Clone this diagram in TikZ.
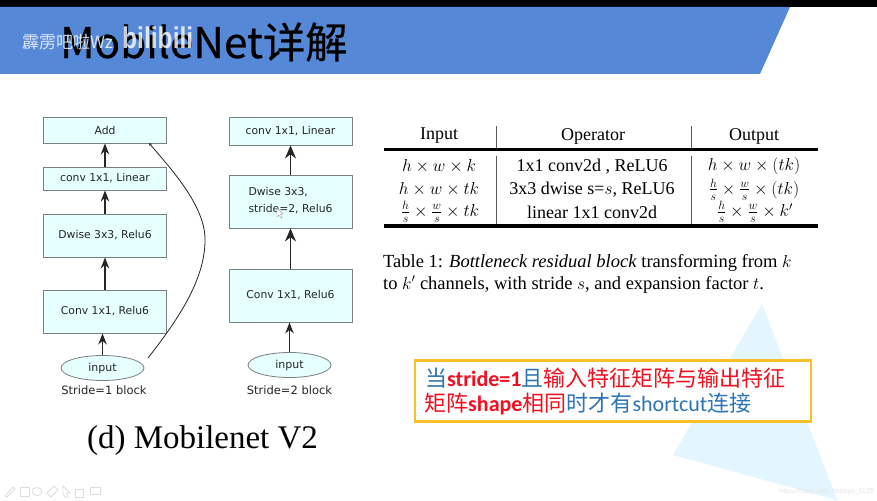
\documentclass[tikz,border=0pt]{standalone}
\usepackage{fontspec}
\usepackage{amsmath}
\usepackage{graphicx}
\setmainfont{Liberation Serif}
\newfontfamily\cjk{Noto Sans CJK SC}
\newfontfamily\cjkt[FakeBold=0.5]{Noto Sans CJK SC}
\newfontfamily\dv{DejaVu Sans}
\newfontfamily\cb{Carlito}[BoldFont=Carlito Bold]
\newfontfamily\lsans{Liberation Sans}
\usetikzlibrary{arrows.meta,shapes.geometric}
\definecolor{hdr}{HTML}{5588D6}
\definecolor{boxfill}{HTML}{E6FFFF}
\definecolor{boxline}{HTML}{7A7F80}
\definecolor{tri}{HTML}{E3F5FE}
\definecolor{callout}{HTML}{FBBF2A}
\definecolor{cblue}{HTML}{2E75B6}
\definecolor{cred}{HTML}{F01020}
\definecolor{icon}{HTML}{DDDDDD}
\newcommand{\fs}[1]{\fontsize{#1}{#1}\selectfont}
\newcommand{\B}[1]{\textcolor{cblue}{#1}}
\newcommand{\R}[1]{\textcolor{cred}{#1}}
\newcommand{\K}[1]{{\cjk #1}}
\newcommand{\Sb}[1]{{\cb\bfseries #1}}
\tikzset{
  x=1pt,y=-1pt,
  blk/.style={draw=boxline,line width=.9pt,fill=boxfill,minimum width=123pt,inner sep=0pt,font=\dv\fs{10.8},text=black!85},
  inp/.style={ellipse,draw=boxline,line width=.8pt,fill=boxfill,minimum width=83pt,minimum height=25pt,inner sep=0pt,font=\dv\fs{11},text=black!85},
  blkcap/.style={font=\dv\fs{11.5},text=black!85},
  arr/.style={draw=black!85,line width=1.3pt,-{Stealth[length=11pt,width=8.5pt]}},
  arrbig/.style={draw=black!85,line width=1.3pt,-{Stealth[length=13pt,width=11pt]}},
  skiparr/.style={draw=black!85,line width=.8pt,-{Stealth[length=3pt,width=3pt]}},
  tbl/.style={font=\fs{18},anchor=center,inner sep=0pt},
  rulet/.style={line width=3.2pt,draw=black},
  rulev/.style={line width=.7pt,draw=black!65},
  icn/.style={draw=icon,line width=.8pt},
}
\begin{document}
\begin{tikzpicture}
\useasboundingbox (0,0) rectangle (877,500);
\fill[white] (0,0) rectangle (877,500);
% background
\fill[tri] (762,304) -- (673,455) -- (837,500) -- cycle;
\fill[black] (0,0) rectangle (877,7);
\fill[hdr] (0,7) -- (790,7) -- (760,74) -- (0,74) -- cycle;
\node[anchor=west,inner sep=0pt,font=\cjkt\fs{42.3}] (title) at (60,42) {MobileNet详解};
\node[anchor=west,inner sep=0pt,font=\cjk\fs{17},text=white,opacity=.8] (wm) at (22,42) {霹雳吧啦Wz};
\node[anchor=west,inner sep=0pt,font=\lsans\bfseries\fs{30},text=white,opacity=.8] (bili) at (122,38) {\scalebox{.82}[1]{bilibili}};
% left block
\node[blk,minimum height=26pt] (add) at (105,130) {Add};
\node[blk,minimum height=23pt] (l1) at (105,178.5) {conv 1x1, Linear};
\node[blk,minimum height=43pt] (d1) at (105,235.5) {Dwise 3x3, Relu6};
\node[blk,minimum height=43pt] (c1) at (105,311.5) {Conv 1x1, Relu6};
\node[inp] (in1) at (102.5,368) {input};
\node[blkcap] (s1) at (104,390) {Stride=1 block};
\draw[arr] (l1.north) -- (add.south);
\draw[arr] (d1.north) -- (l1.south);
\draw[arr] (c1.north) -- (d1.south);
\draw[arr] (in1.north) -- (in1.north |- c1.south);
\coordinate (skipa) at (148,358);
\coordinate (skipb) at (149,143);
\draw[skiparr] (skipa) .. controls (176,322) and (206,280) .. (205,238) .. controls (204,205) and (172,170) .. (skipb);
% right block
\node[blk,minimum height=28pt] (l2) at (290.5,131) {conv 1x1, Linear};
\node[blk,minimum height=53pt,align=left] (d2) at (290.5,201.5) {\begin{tabular}{@{}l@{}}Dwise 3x3,\\[5pt]stride=2, Relu6\end{tabular}};
\node[blk,minimum height=53pt] (c2) at (290.5,295.5) {Conv 1x1, Relu6};
\node[inp] (in2) at (289.5,365) {input};
\node[blkcap] (s2) at (289.5,390) {Stride=2 block};
\draw[arrbig] (d2.north) -- (l2.south);
\draw[arrbig] (c2.north) -- (d2.south);
\draw[arr] (in2.north) -- (in2.north |- c2.south);
\draw[gray!70,fill=white,line width=.4pt] (277,208) -- (277,217) -- (279,215) -- (281,218) -- (282,217) -- (280.5,214.5) -- (283,214) -- cycle;
\node[anchor=center,inner sep=0pt,font=\fs{33}] (mob) at (202.5,441) {(d) Mobilenet V2};
% table
\draw[rulet] (384,149.5) -- (818,149.5);
\draw[rulet] (384,226) -- (818,226);
\draw[rulev] (496,126) -- (496,148);
\draw[rulev] (691,126) -- (691,148);
\draw[rulev] (496,156) -- (496,224);
\draw[rulev] (691,156) -- (691,224);
\node[tbl] (ti) at (439,136) {Input};
\node[tbl] (to) at (593,136) {Operator};
\node[tbl] (tu) at (754,136) {Output};
\node[tbl] (r11) at (439,166.5) {$h\times w\times k$};
\node[tbl] (r12) at (592,166.5) {1x1 conv2d , ReLU6};
\node[tbl] (r13) at (754,166.5) {$h\times w\times (tk)$};
\node[tbl] (r21) at (439,189.5) {$h\times w\times tk$};
\node[tbl] (r22) at (592,189.5) {3x3 dwise s=$s$, ReLU6};
\node[tbl] (r23) at (754,189.5) {$\frac{h}{s}\times\frac{w}{s}\times (tk)$};
\node[tbl] (r31) at (440,212) {$\frac{h}{s}\times\frac{w}{s}\times tk$};
\node[tbl] (r32) at (592,212) {linear 1x1 conv2d};
\node[tbl] (r33) at (755,212) {$\frac{h}{s}\times\frac{w}{s}\times k'$};
% caption
\node[anchor=base west,inner sep=0pt,font=\fs{18.5}] (cap1) at (383,267) {Table 1: \textit{Bottleneck residual block} transforming from $k$};
\node[anchor=base west,inner sep=0pt,font=\fs{18.5}] (cap2) at (383,289) {to $k'$ channels, with stride $s$, and expansion factor $t$.};
% callout
\draw[callout,fill=white,line width=2.4pt] (415,360.5) rectangle (811,421.5);
\node[anchor=west,inner sep=0pt,font=\fs{22}] (c1t) at (425,378) {\B{\K{当}}\R{\Sb{stride=1}}\B{\K{且}}\R{\K{输入特征矩阵与输出特征}}};
\node[anchor=west,inner sep=0pt,font=\fs{22}] (c2t) at (424,404) {\R{\K{矩阵}\Sb{shape}\K{相同}}\B{\K{时才有}{\cb shortcut}\K{连接}}};
% toolbar icons
\draw[icn] (5,496) -- (13,487) -- (15,489) -- (7,497) -- cycle;
\draw[icn] (20,487) rectangle (29,496);
\draw[icn] (37,491.5) ellipse (5 and 4);
\draw[icn] (47,493) -- (54,486) -- (58,490) -- (51,497) -- cycle;
\draw[icn] (63,486) -- (70,493) -- (66.5,493) -- (68,497) -- (65,497) -- (63,493) -- cycle;
\draw[icn] (75,489) rectangle (83,497);
\draw[icn] (90,487) rectangle (100,494);
% watermark
\node[anchor=east,inner sep=0pt,font=\lsans\fs{7},text=black!10] (url) at (874,492) {https://blog.csdn.net/zyd\_1129};
\end{tikzpicture}
\end{document}
